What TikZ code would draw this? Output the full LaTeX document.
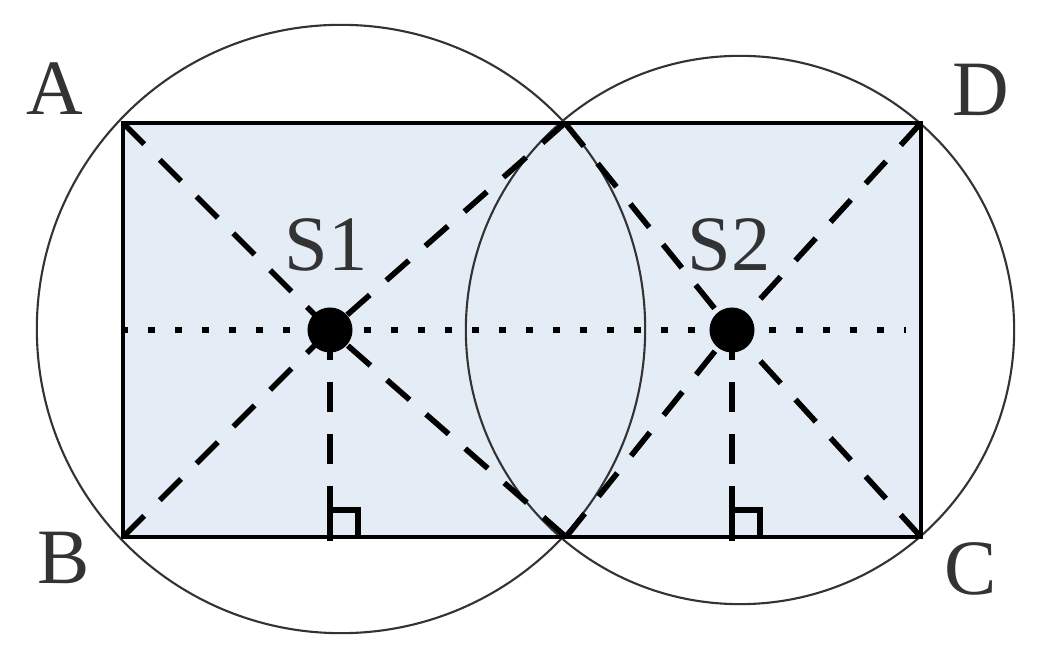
\documentclass[tikz,border=0pt]{standalone}
\usepackage{fontspec}
\setmainfont{Liberation Serif}
\begin{document}
\begin{tikzpicture}[x=0.01cm,y=-0.01cm,
  lbl/.style={inner sep=0pt,font=\fontsize{22.3}{26}\selectfont,text=black!80},
  circ/.style={draw=black!80,line width=0.6pt},
  dsh/.style={line width=1.6pt,dash pattern=on 0.30cm off 0.22cm},
  dotl/.style={line width=1.9pt,dash pattern=on 0.065cm off 0.205cm},
  sqr/.style={line width=1.5pt},
  sdot/.style={circle,fill=black,inner sep=0pt,minimum size=0.45cm}]
\definecolor{rectfill}{RGB}{228,236,246}
\useasboundingbox (0,0) rectangle (1042,661);
% corners and key points
\coordinate (A) at (123,123);
\coordinate (B) at (123,537);
\coordinate (C) at (921,537);
\coordinate (D) at (921,123);
\coordinate (T) at (565,123);
\coordinate (M) at (566,537);
\coordinate (F1) at (330,537);
\coordinate (F2) at (732,537);
\coordinate (DL) at (121,330);
\coordinate (DR) at (906,330);
% fill
\fill[rectfill] (A) rectangle (C);
% circles
\draw[circ] (341,329) circle[radius=3.04cm];
\draw[circ] (740,330) circle[radius=2.74cm];
% dotted midline
\draw[dotl] (DL) -- (DR);
% sensor points
\node[sdot] (S1) at (330,330) {};
\node[sdot] (S2) at (732,330) {};
% dashed lines
\draw[dsh] (A) -- (S1.center);
\draw[dsh] (B) -- (S1.center);
\draw[dsh] (T) -- (S1.center);
\draw[dsh] (M) -- (S1.center);
\draw[dsh] (S1.center) -- (F1);
\draw[dsh] (T) -- (S2.center);
\draw[dsh] (M) -- (S2.center);
\draw[dsh] (D) -- (S2.center);
\draw[dsh] (C) -- (S2.center);
\draw[dsh] (S2.center) -- (F2);
% rectangle border
\draw[line width=0.9pt] (A) rectangle (C);
% right-angle marks
\draw[sqr] (330,541) -- (330,510) -- (358,510) -- (358,537);
\draw[sqr] (732,541) -- (732,510) -- (760,510) -- (760,537);
% labels
\node[lbl] (lA) at (55,89) {A};
\node[lbl] (lB) at (64,558) {B};
\node[lbl] (lC) at (971,569) {C};
\node[lbl] (lD) at (981,90) {D};
\node[lbl] (lS1) at (326,245) {S1};
\node[lbl] (lS2) at (729,245) {S2};
\end{tikzpicture}
\end{document}
